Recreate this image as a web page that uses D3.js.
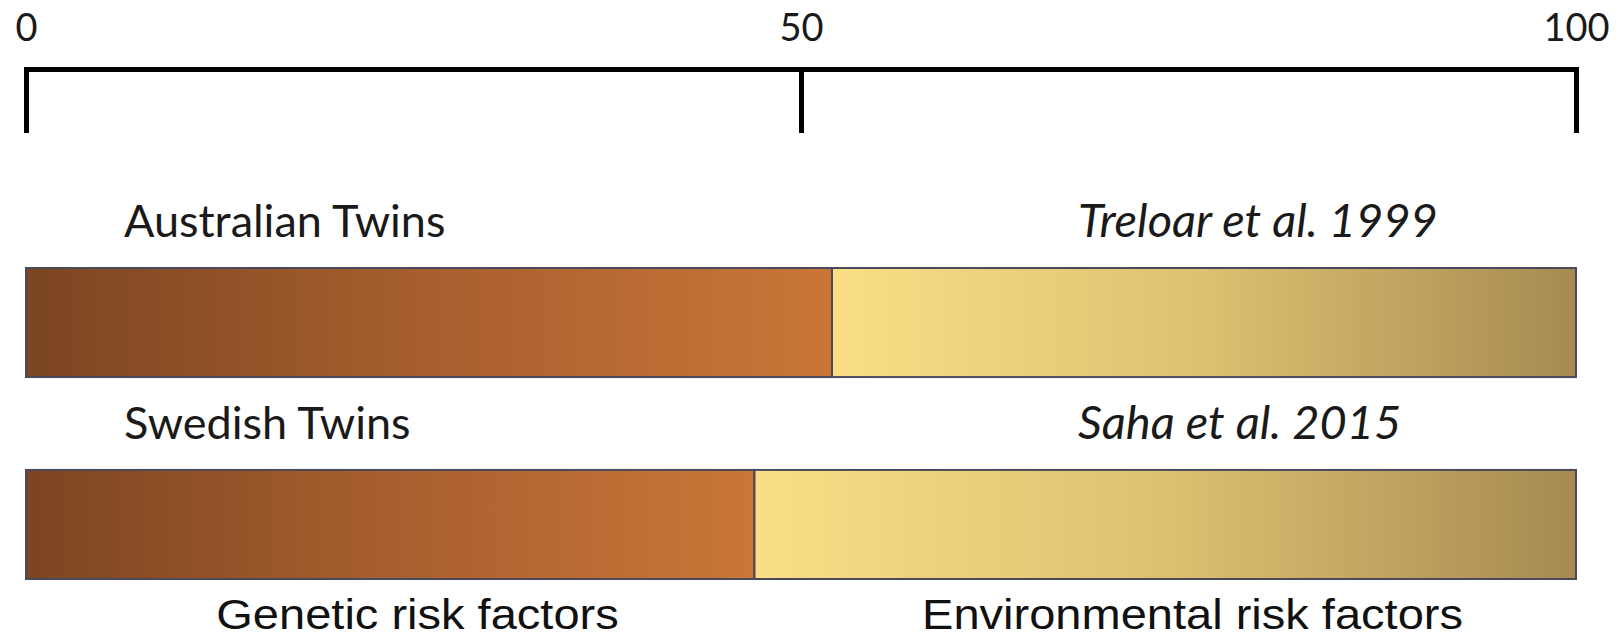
<!DOCTYPE html>
<html>
<head>
<meta charset="utf-8">
<script src="https://cdn.jsdelivr.net/npm/d3@7"></script>
<style>
  body { margin: 0; background: #fff; }
  svg { display: block; }
</style>
</head>
<body>
<svg id="chart" width="1618" height="638"></svg>
<script>
// Twin studies and the split of liability into genetic vs environmental (%)
const studies = ["Australian Twins", "Swedish Twins"];
const citations = ["Treloar et al. 1999", "Saha et al. 2015"];
const geneticShare = [52, 47];
const environmentalShare = [48, 53];
const axisTicks = [0, 50, 100];
const factorNames = ["Genetic risk factors", "Environmental risk factors"];
const factorCentres = [25, 75];

const svg = d3.select("#chart");
const calibriLike = "Lato, 'Open Sans', sans-serif";
const arialLike = "'Liberation Sans', Arial, sans-serif";

const x = d3.scaleLinear().domain([0, 100]).range([26, 1576]);
const y = d3.scaleBand().domain(studies).range([268, 579]).paddingInner(0.46).paddingOuter(0);

// Gradients: each segment shades from its own left edge to its right edge
const defs = svg.append("defs");
const gradients = {
  genetic: ["#7b4521", "#a85f2e", "#ca7638"],
  environmental: ["#fadf86", "#dcc171", "#a78a51"]
};
Object.entries(gradients).forEach(([key, stops]) => {
  const g = defs.append("linearGradient").attr("id", "grad-" + key)
    .attr("x1", "0%").attr("x2", "100%").attr("y1", "0%").attr("y2", "0%");
  stops.forEach((c, i) => g.append("stop")
    .attr("offset", (i / (stops.length - 1) * 100) + "%").attr("stop-color", c));
});

// Top percentage axis with end caps and downward ticks
const axis = d3.axisTop(x)
  .tickValues(axisTicks)
  .tickSizeInner(-64)
  .tickSizeOuter(-64)
  .tickPadding(28)
  .tickFormat(d3.format("d"));

const axisG = svg.append("g").attr("transform", "translate(0,69)").call(axis);
axisG.select(".domain").attr("stroke", "#000").attr("stroke-width", 5).attr("fill", "none")
  .attr("stroke-linejoin", "miter");
axisG.selectAll(".tick line").attr("stroke", "#000").attr("stroke-width", 5);
axisG.selectAll(".tick text")
  .attr("fill", "#1a1a1a")
  .style("font-family", calibriLike)
  .style("font-size", "38px");

// Stacked bars
const rows = studies.map((s, i) => ({ study: s, genetic: geneticShare[i], environmental: environmentalShare[i] }));
const stacked = d3.stack().keys(["genetic", "environmental"])(rows);

svg.append("g").selectAll("g")
  .data(stacked)
  .join("g")
  .attr("fill", d => `url(#grad-${d.key})`)
  .selectAll("rect")
  .data(d => d)
  .join("rect")
  .attr("x", d => x(d[0]))
  .attr("width", d => x(d[1]) - x(d[0]))
  .attr("y", d => y(d.data.study))
  .attr("height", y.bandwidth())
  .attr("stroke", "#4a4a5c")
  .attr("stroke-width", 2);

// Study names and citations above each bar
svg.append("g").selectAll("text")
  .data(studies)
  .join("text")
  .attr("x", 124)
  .attr("y", d => y(d) - 31)
  .style("font-family", calibriLike)
  .style("font-size", "45px")
  .attr("fill", "#1a1a1a")
  .text(d => d);

svg.append("g").selectAll("text")
  .data(citations)
  .join("text")
  .attr("x", 1078)
  .attr("y", (d, i) => y(studies[i]) - 31)
  .style("font-family", calibriLike)
  .style("font-size", "47px")
  .style("font-style", "italic")
  .attr("fill", "#1a1a1a")
  .text(d => d);

// Factor captions under the bars
svg.append("g").selectAll("text")
  .data(factorNames)
  .join("text")
  .attr("text-anchor", "middle")
  .attr("transform", (d, i) => `translate(${x(factorCentres[i]) + 4},629) scale(1.12,1)`)
  .style("font-family", arialLike)
  .style("font-size", "42px")
  .attr("fill", "#111")
  .text(d => d);
</script>
</body>
</html>
